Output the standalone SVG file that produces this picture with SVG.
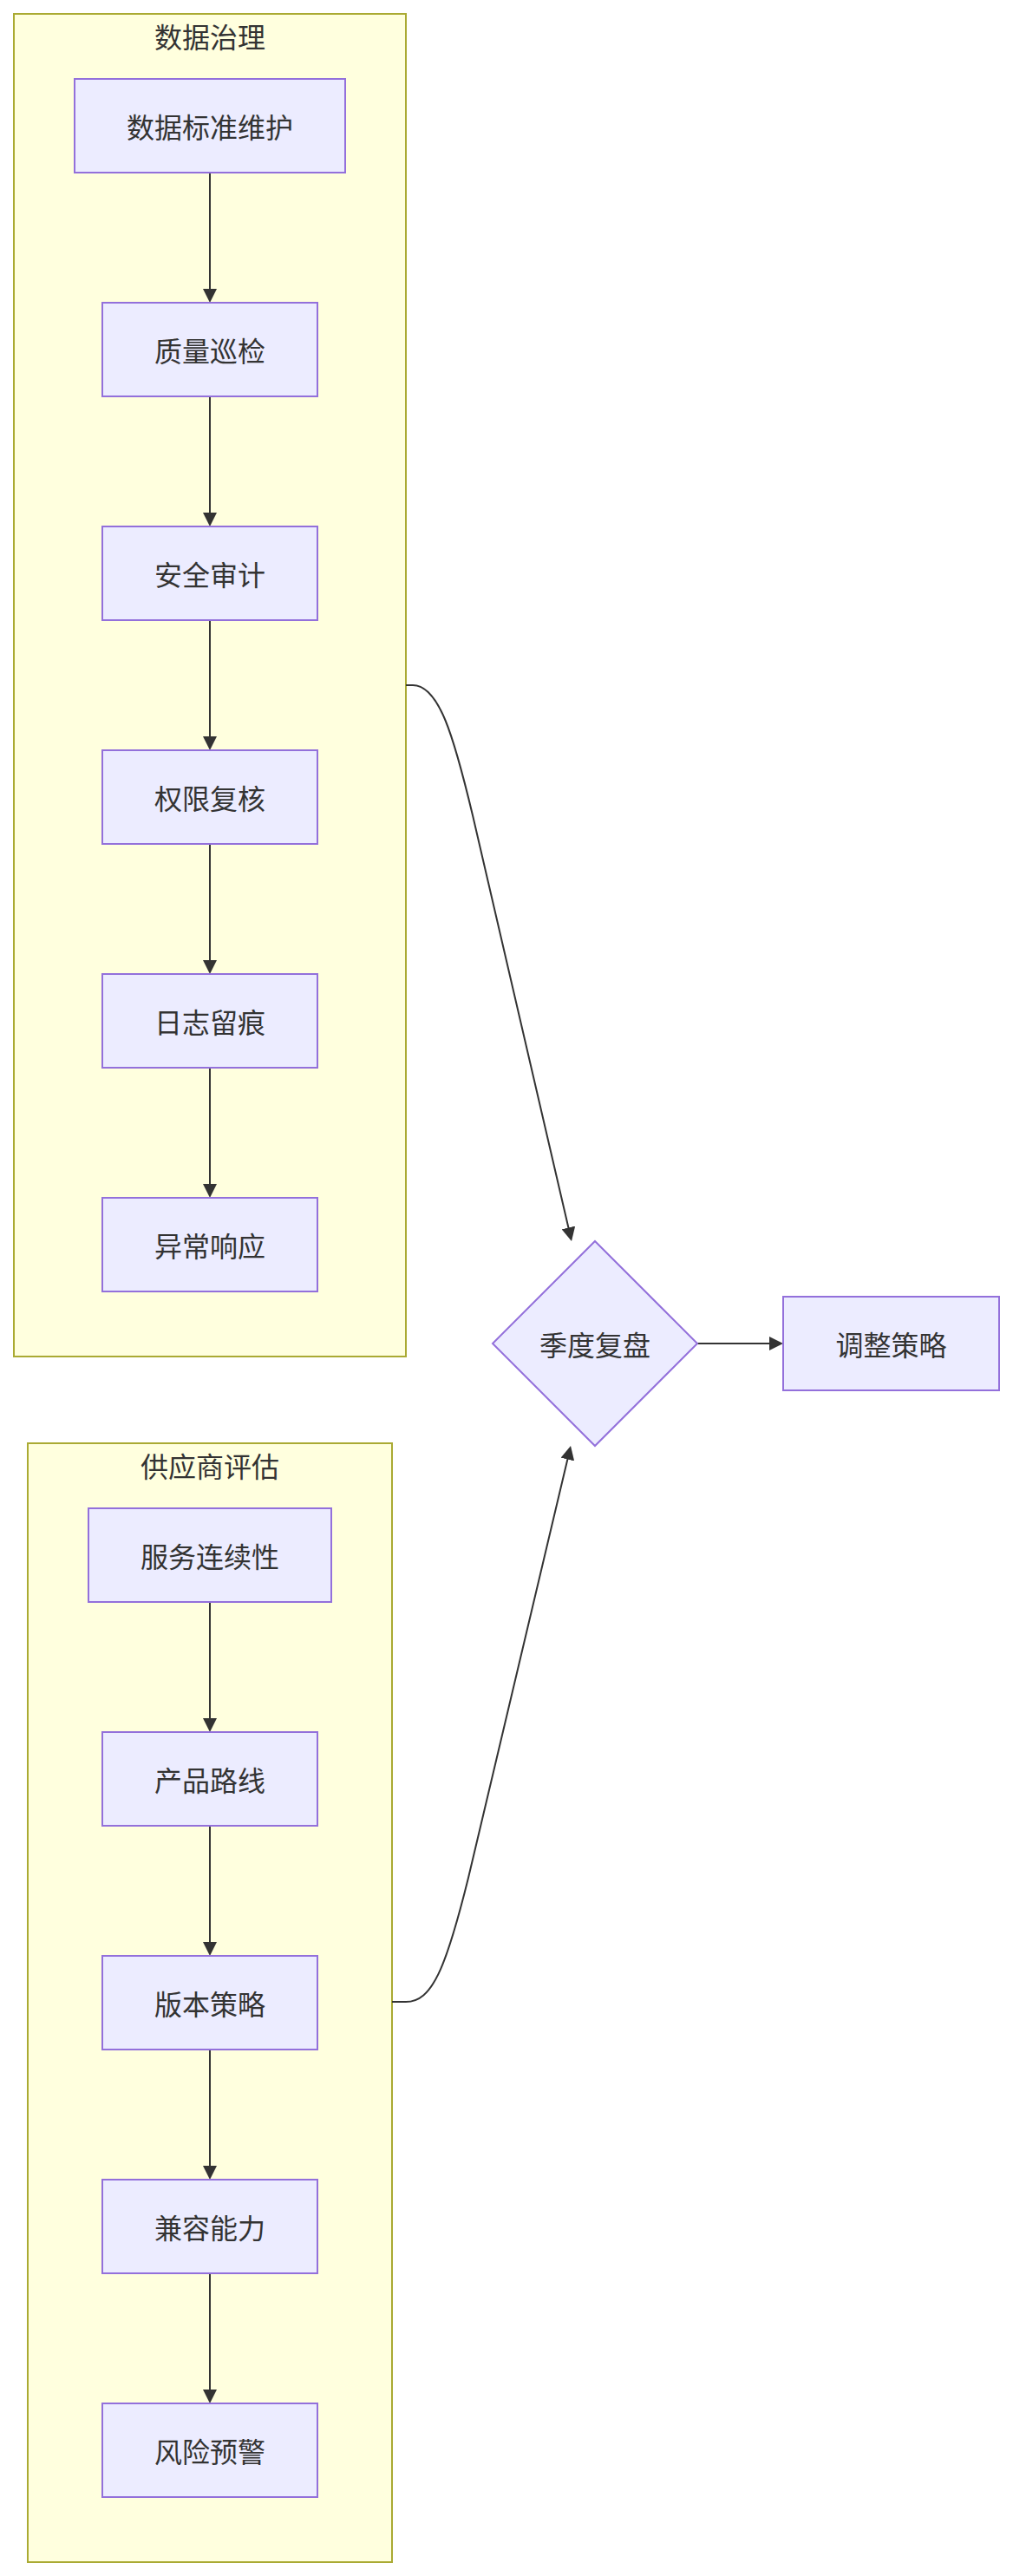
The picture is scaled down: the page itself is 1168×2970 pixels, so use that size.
<svg xmlns="http://www.w3.org/2000/svg" width="1168" height="2970" viewBox="0 0 1168 2970">
<style>
.cluster rect{fill:#ffffde;stroke:#aaaa33;stroke-width:2}
.node rect,.node polygon{fill:#ECECFF;stroke:#9370DB;stroke-width:2}
text{font-family:"Noto Sans CJK SC","Noto Sans",sans-serif;font-size:32px;fill:#333;text-anchor:middle;dominant-baseline:central}
.edge{fill:none;stroke:#333;stroke-width:2}
</style>
<defs>
<marker id="arrow" viewBox="0 0 10 10" refX="7.5" refY="5" markerWidth="16" markerHeight="16" markerUnits="userSpaceOnUse" orient="auto">
<path d="M0,0 L10,5 L0,10 z" fill="#333"/>
</marker>
</defs>
<rect width="1168" height="2970" fill="#ffffff"/>
<g id="cluster-governance" class="cluster">
<rect x="16" y="16" width="452" height="1548"/>
<text x="242" y="41">数据治理</text>
</g>
<g id="cluster-vendor" class="cluster">
<rect x="32" y="1664" width="420" height="1290"/>
<text x="242" y="1689">供应商评估</text>
</g>
<g id="connectors">
<path class="edge" d="M242,199 L242,345" marker-end="url(#arrow)"/>
<path class="edge" d="M242,457 L242,603" marker-end="url(#arrow)"/>
<path class="edge" d="M242,715 L242,861" marker-end="url(#arrow)"/>
<path class="edge" d="M242,973 L242,1119" marker-end="url(#arrow)"/>
<path class="edge" d="M242,1231 L242,1377" marker-end="url(#arrow)"/>
<path class="edge" d="M242,1847 L242,1993" marker-end="url(#arrow)"/>
<path class="edge" d="M242,2105 L242,2251" marker-end="url(#arrow)"/>
<path class="edge" d="M242,2363 L242,2509" marker-end="url(#arrow)"/>
<path class="edge" d="M242,2621 L242,2767" marker-end="url(#arrow)"/>
<path class="edge" d="M468,790 L476,790 C506,790 523,848 545,940 L658.1,1427.1" marker-end="url(#arrow)"/>
<path class="edge" d="M452,2308 L468,2308 C498,2308 514,2270 540,2165 L657.1,1670.9" marker-end="url(#arrow)"/>
<path class="edge" d="M804,1549 L899,1549" marker-end="url(#arrow)"/>
</g>
<g id="n1" class="node"><rect x="86" y="91" width="312" height="108"/><text x="242" y="145">数据标准维护</text></g>
<g id="n2" class="node"><rect x="118" y="349" width="248" height="108"/><text x="242" y="403">质量巡检</text></g>
<g id="n3" class="node"><rect x="118" y="607" width="248" height="108"/><text x="242" y="661">安全审计</text></g>
<g id="n4" class="node"><rect x="118" y="865" width="248" height="108"/><text x="242" y="919">权限复核</text></g>
<g id="n5" class="node"><rect x="118" y="1123" width="248" height="108"/><text x="242" y="1177">日志留痕</text></g>
<g id="n6" class="node"><rect x="118" y="1381" width="248" height="108"/><text x="242" y="1435">异常响应</text></g>
<g id="v1" class="node"><rect x="102" y="1739" width="280" height="108"/><text x="242" y="1793">服务连续性</text></g>
<g id="v2" class="node"><rect x="118" y="1997" width="248" height="108"/><text x="242" y="2051">产品路线</text></g>
<g id="v3" class="node"><rect x="118" y="2255" width="248" height="108"/><text x="242" y="2309">版本策略</text></g>
<g id="v4" class="node"><rect x="118" y="2513" width="248" height="108"/><text x="242" y="2567">兼容能力</text></g>
<g id="v5" class="node"><rect x="118" y="2771" width="248" height="108"/><text x="242" y="2825">风险预警</text></g>
<g id="review" class="node"><polygon points="686,1431 804,1549 686,1667 568,1549"/><text x="686" y="1549">季度复盘</text></g>
<g id="adjust" class="node"><rect x="903" y="1495" width="249" height="108"/><text x="1027.5" y="1549">调整策略</text></g>
</svg>
